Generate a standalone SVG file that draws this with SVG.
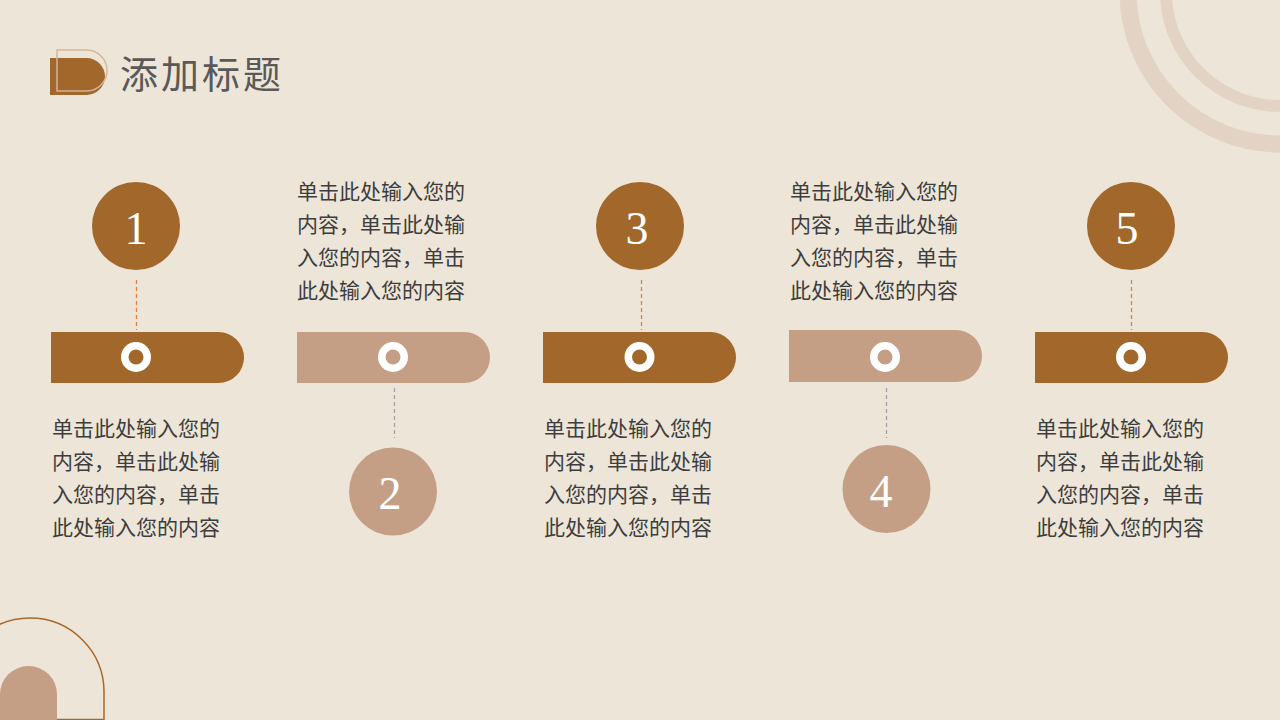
<svg xmlns="http://www.w3.org/2000/svg" width="1280" height="720" viewBox="0 0 1280 720">
<style>
.bg{fill:#ede5d8}
.dark{fill:#a2672a}
.light{fill:#c49f85}
.hole-d{fill:#a2672a}
.hole-l{fill:#c49f85}
.ring{fill:#ffffff}
.num{font-family:"Liberation Serif","DejaVu Serif",serif;font-size:46px;fill:#ffffff;text-anchor:middle}
.txt{font-family:"Noto Sans CJK SC","Noto Sans",sans-serif;font-size:21px;fill:#3d3d3d}
.title{font-family:"Noto Sans CJK SC","Noto Sans",sans-serif;font-size:38px;fill:#595959;letter-spacing:3px}
.dash-o{stroke:#e08040;stroke-width:1.3;stroke-dasharray:4 3;fill:none}
.dash-g{stroke:#a3a2a8;stroke-width:1.3;stroke-dasharray:4 3;fill:none}
</style>
<rect class="bg" x="0" y="0" width="1280" height="720"/>
<!-- decorations -->
<g id="deco-top-right" fill="none" stroke="#e3d3c4">
<circle cx="1280" cy="-8" r="152" stroke-width="17"/>
<circle cx="1280" cy="-8" r="114" stroke-width="12"/>
</g>
<g id="deco-bottom-left">
<path d="M -44 720 V 692 A 74 74 0 0 1 104 692 V 719.5 H -44" fill="none" stroke="#a8682a" stroke-width="1.5"/>
<path d="M 0 720 V 694.5 A 28.5 28.5 0 0 1 57 694.5 V 720 Z" class="light"/>
</g>
<!-- title -->
<g id="title">
<path d="M 50 58 H 86.5 A 18.5 18.5 0 0 1 86.5 95 H 50 Z" class="dark"/>
<path d="M 57 50 H 86.5 A 20.5 20.5 0 0 1 86.5 91 H 57 Z" fill="none" stroke="#d6b49a" stroke-width="1.5"/>
<text class="title" x="120" y="88">添加标题</text>
</g>
<!-- connectors -->
<g id="connectors">
<line class="dash-o" x1="136.5" y1="280" x2="136.5" y2="330"/>
<line class="dash-g" x1="394.5" y1="388" x2="394.5" y2="438"/>
<line class="dash-o" x1="641.5" y1="280" x2="641.5" y2="330"/>
<line class="dash-g" x1="886.5" y1="388" x2="886.5" y2="438"/>
<line class="dash-o" x1="1131.5" y1="280" x2="1131.5" y2="330"/>
</g>
<!-- item 1 -->
<g id="item1">
<circle class="dark" cx="136" cy="226" r="44"/>
<text class="num" x="136" y="244">1</text>
<path class="dark" d="M 51 332 H 218.5 A 25.5 25.5 0 0 1 218.5 383 H 51 Z"/>
<circle class="ring" cx="136" cy="357" r="15"/>
<circle class="hole-d" cx="136" cy="357" r="7.5"/>
<text class="txt"><tspan x="52" y="436">单击此处输入您的</tspan><tspan x="52" y="469">内容，单击此处输</tspan><tspan x="52" y="502">入您的内容，单击</tspan><tspan x="52" y="535">此处输入您的内容</tspan></text>
</g>
<!-- item 2 -->
<g id="item2">
<text class="txt"><tspan x="297" y="199">单击此处输入您的</tspan><tspan x="297" y="232">内容，单击此处输</tspan><tspan x="297" y="265">入您的内容，单击</tspan><tspan x="297" y="298">此处输入您的内容</tspan></text>
<path class="light" d="M 297 332 H 464.5 A 25.5 25.5 0 0 1 464.5 383 H 297 Z"/>
<circle class="ring" cx="393" cy="357" r="15"/>
<circle class="hole-l" cx="393" cy="357" r="7.5"/>
<circle class="light" cx="393" cy="491.5" r="44"/>
<text class="num" x="390" y="509">2</text>
</g>
<!-- item 3 -->
<g id="item3">
<circle class="dark" cx="640" cy="226" r="44"/>
<text class="num" x="637" y="244">3</text>
<path class="dark" d="M 543 332 H 710.5 A 25.5 25.5 0 0 1 710.5 383 H 543 Z"/>
<circle class="ring" cx="639.5" cy="357" r="15"/>
<circle class="hole-d" cx="639.5" cy="357" r="7.5"/>
<text class="txt"><tspan x="544" y="436">单击此处输入您的</tspan><tspan x="544" y="469">内容，单击此处输</tspan><tspan x="544" y="502">入您的内容，单击</tspan><tspan x="544" y="535">此处输入您的内容</tspan></text>
</g>
<!-- item 4 -->
<g id="item4">
<text class="txt"><tspan x="790" y="199">单击此处输入您的</tspan><tspan x="790" y="232">内容，单击此处输</tspan><tspan x="790" y="265">入您的内容，单击</tspan><tspan x="790" y="298">此处输入您的内容</tspan></text>
<path class="light" d="M 789 330 H 956 A 26 26 0 0 1 956 382 H 789 Z"/>
<circle class="ring" cx="885" cy="357" r="15"/>
<circle class="hole-l" cx="885" cy="357" r="7.5"/>
<circle class="light" cx="886.5" cy="489" r="44"/>
<text class="num" x="881" y="507">4</text>
</g>
<!-- item 5 -->
<g id="item5">
<circle class="dark" cx="1131" cy="226" r="44"/>
<text class="num" x="1127" y="244">5</text>
<path class="dark" d="M 1035 332 H 1202.5 A 25.5 25.5 0 0 1 1202.5 383 H 1035 Z"/>
<circle class="ring" cx="1131" cy="357" r="15"/>
<circle class="hole-d" cx="1131" cy="357" r="7.5"/>
<text class="txt"><tspan x="1036" y="436">单击此处输入您的</tspan><tspan x="1036" y="469">内容，单击此处输</tspan><tspan x="1036" y="502">入您的内容，单击</tspan><tspan x="1036" y="535">此处输入您的内容</tspan></text>
</g>
</svg>
